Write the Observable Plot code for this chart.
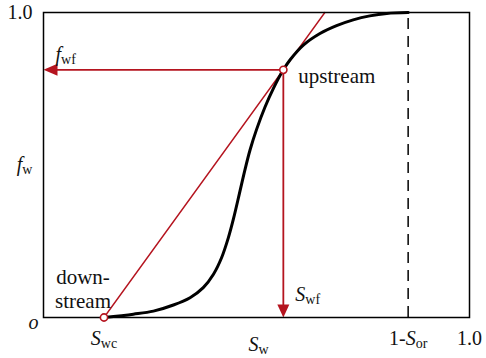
<!DOCTYPE html>
<html>
<head>
<meta charset="utf-8">
<script src="https://cdn.jsdelivr.net/npm/d3@7"></script>
<script src="https://cdn.jsdelivr.net/npm/@observablehq/plot@0.6"></script>
<style>
  html, body { margin: 0; padding: 0; background: #fff; }
  #chart svg { display: block; }
</style>
</head>
<body>
<div id="chart"></div>
<script>
// Fractional flow curve fw(Sw) with the Welge tangent construction.
const sw = [0.142, 0.211, 0.258, 0.305, 0.344, 0.375, 0.399, 0.418, 0.434, 0.446,
            0.460, 0.473, 0.485, 0.500, 0.520, 0.540, 0.563, 0.579, 0.610, 0.649,
            0.688, 0.727, 0.766, 0.806, 0.856];
const fw = [0.000, 0.011, 0.021, 0.041, 0.065, 0.098, 0.142, 0.196, 0.262, 0.324,
            0.407, 0.485, 0.550, 0.616, 0.690, 0.752, 0.812, 0.845, 0.893, 0.931,
            0.957, 0.976, 0.989, 0.997, 1.000];

// Key saturations and the shock-front fractional flow
const Swc = 0.142;      // connate water saturation
const Swf = 0.563;      // front saturation
const fwf = 0.812;      // fractional flow at the front
const SwMax = 0.856;    // 1 - Sor

// Tick values and their labels (markup: *italic*, _{subscript})
const xTicks = [Swc, SwMax, 1];
const xTickLabels = ["*S*_{wc}", "1-*S*_{or}", "1.0"];
const yTicks = [1];
const yTickLabels = ["1.0"];

const RED = "#b5141f";
const FONT = "Liberation Serif, Times New Roman, serif";

const curve = sw.map((s, i) => ({s, f: fw[i]}));
// Tangent from (Swc, 0) through the front point, extended to fw = 1
const tangentTop = Swc + (Swf - Swc) / fwf;
const tangent = [{s: Swc, f: 0}, {s: tangentTop, f: 1}];

// Filled arrowheads with the tip at the data point
const arrowDown = {draw(ctx) { ctx.moveTo(0, 0); ctx.lineTo(-6, -13); ctx.lineTo(6, -13); ctx.closePath(); }};
const arrowLeft = {draw(ctx) { ctx.moveTo(0, 0); ctx.lineTo(14, -6); ctx.lineTo(14, 6); ctx.closePath(); }};

const xLabelMap = new Map(xTicks.map((t, i) => [t, xTickLabels[i]]));
const yLabelMap = new Map(yTicks.map((t, i) => [t, yTickLabels[i]]));

const plot = Plot.plot({
  width: 486,
  height: 358,
  marginLeft: 43,
  marginRight: 17,
  marginTop: 12,
  marginBottom: 41,
  style: {fontFamily: FONT, fontSize: "20px", background: "#fff", color: "#111"},
  x: {domain: [0, 1]},
  y: {domain: [0, 1]},
  marks: [
    Plot.axisX(xTicks, {tickSize: 0, tickPadding: 13, fontSize: 20, tickFormat: d => xLabelMap.get(d), fill: "#111"}),
    Plot.axisY(yTicks, {tickSize: 0, tickPadding: 11, fontSize: 20, tickFormat: d => yLabelMap.get(d), fill: "#111"}),
    // Residual-oil limit
    Plot.ruleX([SwMax], {y1: 0, y2: 1, stroke: "#111", strokeWidth: 1.6, strokeDasharray: "11,7"}),
    // Tangent line and the front construction
    Plot.line(tangent, {x: "s", y: "f", stroke: RED, strokeWidth: 1.4}),
    Plot.link([{x1: Swf, y1: fwf, x2: 0.012, y2: fwf}], {x1: "x1", y1: "y1", x2: "x2", y2: "y2", stroke: RED, strokeWidth: 1.8}),
    Plot.link([{x1: Swf, y1: fwf, x2: Swf, y2: 0.02}], {x1: "x1", y1: "y1", x2: "x2", y2: "y2", stroke: RED, strokeWidth: 1.8}),
    Plot.dot([{s: 0, f: fwf}], {x: "s", y: "f", symbol: arrowLeft, fill: RED, stroke: "none"}),
    Plot.dot([{s: Swf, f: 0}], {x: "s", y: "f", symbol: arrowDown, fill: RED, stroke: "none"}),
    // Fractional flow curve
    Plot.line(curve, {x: "s", y: "f", curve: "catmull-rom", stroke: "#000", strokeWidth: 3}),
    Plot.frame({stroke: "#000", strokeWidth: 1.5}),
    // Hollow markers at the tangent origin and the front
    Plot.dot([{s: Swc, f: 0}, {s: Swf, f: fwf}], {x: "s", y: "f", r: 3.6, fill: "#fff", stroke: RED, strokeWidth: 1.6}),
    // Annotations
    Plot.text([{s: Swf, f: fwf, t: "upstream"}], {x: "s", y: "f", text: "t", textAnchor: "start", dx: 15, dy: 6, fontSize: 21, fill: "#111"}),
    Plot.text([{s: Swc, f: 0, t: "down-\nstream"}], {x: "s", y: "f", text: "t", textAnchor: "middle", lineHeight: 1.15, dx: -21, dy: -29, fontSize: 21, fill: "#111"}),
    Plot.text([{s: 0, f: fwf, t: "*f*_{wf}"}], {x: "s", y: "f", text: "t", textAnchor: "start", dx: 12, dy: -15, fontSize: 20, fill: "#111"}),
    Plot.text([{s: Swf, f: 0, t: "*S*_{wf}"}], {x: "s", y: "f", text: "t", textAnchor: "start", dx: 12, dy: -23, fontSize: 20, fill: "#111"}),
    Plot.text([{s: 0, f: 0, t: "o"}], {x: "s", y: "f", text: "t", fontStyle: "italic", dx: -10, dy: 5, fontSize: 20, fill: "#111"}),
    // Axis titles
    Plot.text([{s: 0.5, f: 0, t: "*S*_{w}"}], {x: "s", y: "f", text: "t", dx: 2, dy: 27, fontSize: 20, fill: "#111"}),
    Plot.text([{s: 0, f: 0.5, t: "*f*_{w}"}], {x: "s", y: "f", text: "t", dx: -19, dy: 0, fontSize: 20, fill: "#111"})
  ]
});

// Turn *italic* and _{sub} markup into styled tspans
function richText(svg) {
  const ns = "http://www.w3.org/2000/svg";
  const re = /\*([^*]+)\*|_\{([^}]+)\}|([^*_]+)/g;
  svg.querySelectorAll("text").forEach(el => {
    const lines = el.querySelectorAll("tspan").length ? [...el.querySelectorAll("tspan")] : [el];
    lines.forEach(node => {
      const s = node.textContent;
      if (!/[*_]/.test(s)) return;
      node.textContent = "";
      for (const m of s.matchAll(re)) {
        const ts = document.createElementNS(ns, "tspan");
        if (m[1]) { ts.textContent = m[1]; ts.setAttribute("font-style", "italic"); }
        else if (m[2]) { ts.textContent = m[2]; ts.setAttribute("font-size", "14px"); ts.setAttribute("dy", "0.22em"); }
        else ts.textContent = m[3];
        node.appendChild(ts);
      }
    });
  });
}
richText(plot);
document.getElementById("chart").appendChild(plot);
</script>
</body>
</html>
